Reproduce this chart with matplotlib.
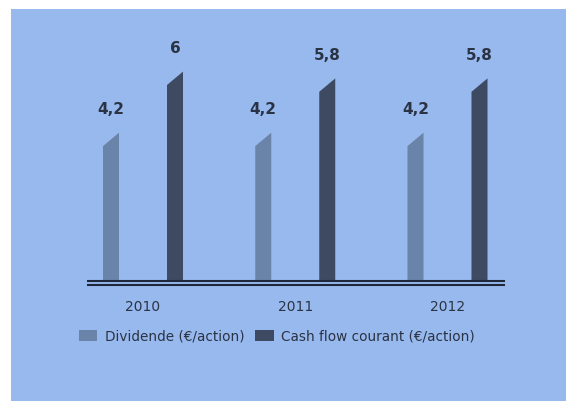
import matplotlib
matplotlib.use("Agg")
import matplotlib.pyplot as plt
from matplotlib.patches import Polygon, Rectangle, Patch

# Data
years = ["2010", "2011", "2012"]
dividende = [4.2, 4.2, 4.2]
cash_flow = [6, 5.8, 5.8]
labels_div = ["4,2", "4,2", "4,2"]
labels_cf = ["6", "5,8", "5,8"]
series_names = ["Dividende (€/action)", "Cash flow courant (€/action)"]

# Styling
bg_color = "#98b9ee"
div_color = "#6a83a8"
cf_color = "#3d4a62"
text_color = "#2a3344"
line_color = "#1e2838"

W, H, DPI = 566, 401, 100
fig = plt.figure(figsize=(W / DPI, H / DPI), dpi=DPI, facecolor="white")

ax = fig.add_axes([0, 0, 1, 1])
ax.set_facecolor("none")
px_per_unit_y = 33.95
px_per_group = 152.25
x0_px, base_px = 143, 282
ax.set_ylim(-(H - base_px) / px_per_unit_y, base_px / px_per_unit_y)
ax.set_xlim(-x0_px / px_per_group, (W - x0_px) / px_per_group)
ax.axis("off")

# Light-blue panel
ax.add_patch(Rectangle((11 / W, 0), 1, 1 - 9 / H, transform=fig.transFigure,
                       facecolor=bg_color, edgecolor="none", zorder=0))

offset = 32 / px_per_group
half_w = 8 / px_per_group
slant = 6.7 / px_per_unit_y


def slanted_bar(xc, value, color):
    # bar whose top rises from left to right, centred on the value
    pts = [(xc - half_w, 0), (xc + half_w, 0),
           (xc + half_w, value + slant), (xc - half_w, value - slant)]
    ax.add_patch(Polygon(pts, closed=True, facecolor=color, edgecolor="none", zorder=2))


for i, (d, c) in enumerate(zip(dividende, cash_flow)):
    xd, xc = i - offset, i + offset
    slanted_bar(xd, d, div_color)
    slanted_bar(xc, c, cf_color)
    ax.annotate(labels_div[i], (xd, d), xytext=(0, 21.5), textcoords="offset points",
                ha="center", va="center", fontsize=11, fontweight="bold", color=text_color)
    ax.annotate(labels_cf[i], (xc, c), xytext=(0, 21.5), textcoords="offset points",
                ha="center", va="center", fontsize=11, fontweight="bold", color=text_color)
    ax.annotate(years[i], (i, 0), xytext=(0, -18), textcoords="offset points",
                ha="center", va="center", fontsize=10, color=text_color)

# Double baseline
xl = (87 - x0_px) / px_per_group
xr = (505 - x0_px) / px_per_group
for ypx in (281, 285):
    yv = (base_px - ypx) / px_per_unit_y
    ax.plot([xl, xr], [yv, yv], color=line_color, linewidth=1.5, zorder=3,
            solid_capstyle="butt")

handles = [Patch(facecolor=div_color, edgecolor="none"),
           Patch(facecolor=cf_color, edgecolor="none")]
fig.legend(handles, series_names, loc="center", bbox_to_anchor=(277 / W, 1 - 336 / H),
           ncol=2, frameon=False, fontsize=9.8, handlelength=1.35, handleheight=0.85,
           handletextpad=0.55, columnspacing=0.8, labelcolor=text_color, borderpad=0)

fig.savefig("out.png", dpi=DPI, facecolor="white")
